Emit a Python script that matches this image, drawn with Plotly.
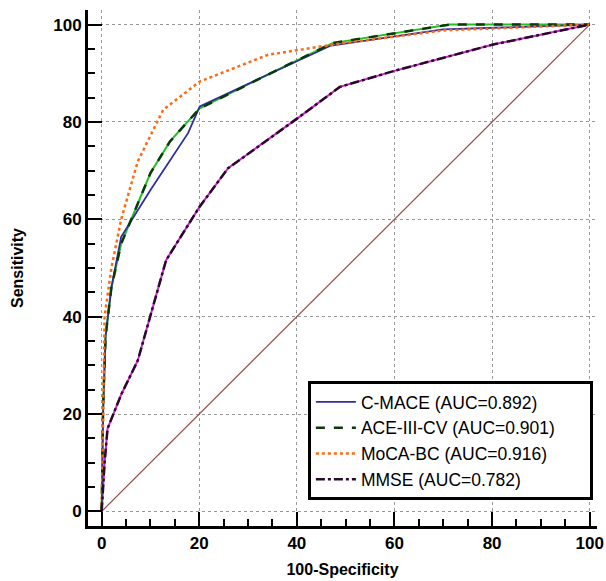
import plotly.graph_objects as go

# ROC data (100-Specificity, Sensitivity)
cmace_x = [0, 0.3, 0.8, 2.0, 4.0, 10.0, 17.7, 20.1, 34.0, 47.0, 70.0, 100]
cmace_y = [0, 20, 36, 46, 56.4, 66.0, 77.7, 83.2, 89.7, 95.7, 99.0, 100]

ace_x = [0, 0.3, 0.8, 2.0, 4.0, 10.0, 14.0, 20.1, 34.0, 47.3, 71.3, 100]
ace_y = [0, 22, 36, 46, 55.0, 69.5, 76.0, 82.8, 89.7, 96.2, 100, 100]

moca_x = [0, 0.3, 0.6, 2.0, 4.0, 7.4, 12.6, 20.1, 34.1, 48.0, 70.0, 100]
moca_y = [0, 22, 40, 50, 60.0, 71.9, 82.5, 88.3, 93.8, 96.0, 98.8, 100]

mmse_x = [0, 0.6, 1.2, 4.0, 7.4, 13.2, 20.0, 25.9, 40.6, 48.8, 60.0, 80.2, 100]
mmse_y = [0, 10, 17, 24, 31, 51.6, 62.5, 70.5, 81.1, 87.2, 90.5, 95.9, 100]

ref_x = [0, 100]
ref_y = [0, 100]

names = ["C-MACE (AUC=0.892)", "ACE-III-CV (AUC=0.901)", "MoCA-BC (AUC=0.916)", "MMSE (AUC=0.782)"]
pad = "\u00a0" * 6

fig = go.Figure()

fig.add_trace(go.Scatter(x=ref_x, y=ref_y, mode="lines", showlegend=False,
                         line=dict(color="#9a4a4a", width=1.2)))

fig.add_trace(go.Scatter(x=mmse_x, y=mmse_y, mode="lines", showlegend=False,
                         line=dict(color="#d020d0", width=2)))
fig.add_trace(go.Scatter(x=ace_x, y=ace_y, mode="lines", showlegend=False,
                         line=dict(color="#22c022", width=2)))

fig.add_trace(go.Scatter(x=cmace_x, y=cmace_y, mode="lines", name=names[0],
                         line=dict(color="#2e2e9e", width=1.8)))
fig.add_trace(go.Scatter(x=ace_x, y=ace_y, mode="lines", name=names[1] + pad,
                         line=dict(color="#0a3a0a", width=2.5, dash="dash")))
fig.add_trace(go.Scatter(x=moca_x, y=moca_y, mode="lines", name=names[2],
                         line=dict(color="#ff6a10", width=2.5, dash="dot")))
fig.add_trace(go.Scatter(x=mmse_x, y=mmse_y, mode="lines", name=names[3],
                         line=dict(color="#2a0a2a", width=2.5, dash="dashdot")))

axis_common = dict(
    automargin=False,
    showline=True, linecolor="black", linewidth=3,
    ticks="inside", ticklen=14, tickwidth=2, tickcolor="black",
    showgrid=True, gridcolor="#999999", griddash="dot", gridwidth=1,
    zeroline=False, tick0=0, dtick=20,
    minor=dict(ticks="inside", ticklen=7, tickwidth=2, tickcolor="black", dtick=5, showgrid=False),
    tickfont=dict(family="Liberation Sans", size=17, color="black", weight="bold"),
    title_font=dict(family="Liberation Sans", size=16, color="black", weight="bold"),
)

fig.update_xaxes(range=[-2.8, 101.5], title_text="100-Specificity", title_standoff=12, **axis_common)
fig.update_yaxes(range=[-3, 103], title_text="Sensitivity", title_standoff=26, **axis_common)

fig.update_layout(
    width=606, height=581,
    margin=dict(l=88, r=9, t=10, b=55),
    paper_bgcolor="white", plot_bgcolor="white",
    font=dict(family="Liberation Sans", color="black"),
    legend=dict(x=0.432, y=0.281, xanchor="left", yanchor="top",
                bordercolor="black", borderwidth=3, bgcolor="white",
                font=dict(family="Liberation Sans", size=17.5, color="black"),
                tracegroupgap=0, itemwidth=40),
)

fig.write_html("out.html", config={"displayModeBar": False},
               post_script="document.body.style.margin='0';document.body.style.overflow='hidden';")
